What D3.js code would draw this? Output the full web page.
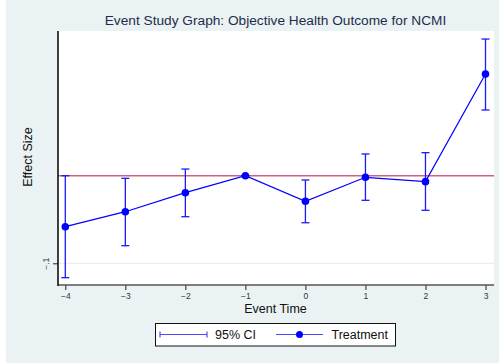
<!DOCTYPE html>
<html>
<head>
<meta charset="utf-8">
<script src="https://cdn.jsdelivr.net/npm/d3@7"></script>
<style>
  html, body { margin: 0; padding: 0; background: #ffffff; }
  svg { display: block; }
  text { font-family: "Liberation Sans", Arial, sans-serif; }
</style>
</head>
<body>
<svg id="chart" width="502" height="363"></svg>
<script>
// Event-study coefficients and 95% confidence bounds
const eventTimes = [-4, -3, -2, -1, 0, 1, 2, 3];
const estimates  = [-0.0582, -0.0411, -0.0194, 0.0, -0.0292, -0.0018, -0.0068, 0.1161];
const ciLower    = [-0.1164, -0.0799, -0.0468, 0.0, -0.0537, -0.0281, -0.0395, 0.0750];
const ciUpper    = [ 0.0000, -0.0030,  0.0076, 0.0, -0.0049,  0.0248,  0.0263, 0.1560];
const yTicks     = [-0.1];
const yTickLabels = ["\u2212.1"];
const legendLabels = ["95% CI", "Treatment"];

const rows = eventTimes.map((t, i) => ({ t, est: estimates[i], lo: ciLower[i], hi: ciUpper[i] }));

const svg = d3.select("#chart");
const W = 502, H = 363;

// outer graph region
svg.append("rect").attr("x", 6).attr("y", 0).attr("width", 493).attr("height", H)
  .attr("fill", "#eaf2f3");

const plot = { left: 58, right: 494, top: 31, bottom: 285 };
svg.append("rect").attr("x", plot.left).attr("y", plot.top)
  .attr("width", plot.right - plot.left).attr("height", plot.bottom - plot.top)
  .attr("fill", "#ffffff");

const x = d3.scaleLinear().domain([-4, 3]).range([65.3, 485.5]);
const y = d3.scaleLinear().domain([-0.1, 0]).range([263.3, 175.7]);

// gridline
svg.append("g").selectAll("line").data(yTicks).join("line")
  .attr("x1", plot.left).attr("x2", plot.right)
  .attr("y1", d => y(d)).attr("y2", d => y(d))
  .attr("stroke", "#e6ecec").attr("stroke-width", 1);

// zero reference line
svg.append("line")
  .attr("x1", plot.left).attr("x2", plot.right)
  .attr("y1", y(0)).attr("y2", y(0))
  .attr("stroke", "#d6607a").attr("stroke-width", 1.6);

// x axis
const xAxis = d3.axisBottom(x).tickValues(eventTimes)
  .tickFormat(d => d < 0 ? "\u2212" + Math.abs(d) : String(d))
  .tickSize(5).tickPadding(3);
const gx = svg.append("g").attr("transform", `translate(0,${plot.bottom})`).call(xAxis);
gx.select(".domain").remove();
gx.append("line").attr("x1", plot.left).attr("x2", plot.right).attr("y1", 0).attr("y2", 0)
  .attr("stroke", "#555").attr("stroke-width", 1.3);
gx.selectAll(".tick line").attr("stroke", "#222").attr("stroke-width", 1);
gx.selectAll(".tick text").attr("font-size", 8.5).attr("fill", "#333")
  .attr("font-family", "Liberation Sans, Arial, sans-serif");

// y axis
const yAxis = d3.axisLeft(y).tickValues(yTicks).tickFormat((d, i) => yTickLabels[i])
  .tickSize(5).tickPadding(2);
const gy = svg.append("g").attr("transform", `translate(${plot.left},0)`).call(yAxis);
gy.select(".domain").remove();
gy.append("line").attr("x1", 0).attr("x2", 0).attr("y1", plot.top).attr("y2", plot.bottom + 1)
  .attr("stroke", "#111").attr("stroke-width", 1.6);
gy.selectAll(".tick line").attr("stroke", "#222");
gy.selectAll(".tick text")
  .attr("font-size", 8.5).attr("fill", "#333").attr("text-anchor", "middle")
  .attr("font-family", "Liberation Sans, Arial, sans-serif")
  .attr("transform", "translate(-12,0) rotate(-90)")
  .attr("x", 0).attr("dy", "0.32em");

// confidence intervals
const ci = svg.append("g").attr("stroke", "#1a1aff").attr("stroke-width", 1.3);
const cap = 4;
rows.forEach(d => {
  ci.append("line").attr("x1", x(d.t)).attr("x2", x(d.t)).attr("y1", y(d.lo)).attr("y2", y(d.hi));
  ci.append("line").attr("x1", x(d.t) - cap).attr("x2", x(d.t) + cap).attr("y1", y(d.lo)).attr("y2", y(d.lo));
  ci.append("line").attr("x1", x(d.t) - cap).attr("x2", x(d.t) + cap).attr("y1", y(d.hi)).attr("y2", y(d.hi));
});

// estimates line and markers
const line = d3.line().x(d => x(d.t)).y(d => y(d.est));
svg.append("path").datum(rows).attr("d", line)
  .attr("fill", "none").attr("stroke", "#0000ff").attr("stroke-width", 1.2);
svg.append("g").selectAll("circle").data(rows).join("circle")
  .attr("cx", d => x(d.t)).attr("cy", d => y(d.est)).attr("r", 3.8)
  .attr("fill", "#0000ff");

// titles
svg.append("text").attr("x", 275.5).attr("y", 25).attr("text-anchor", "middle")
  .attr("font-size", 13.7).attr("fill", "#1f2d4a")
  .text("Event Study Graph: Objective Health Outcome for NCMI");
svg.append("text").attr("transform", "translate(31.5,157) rotate(-90)")
  .attr("text-anchor", "middle").attr("font-size", 12.5).attr("fill", "#111")
  .text("Effect Size");
svg.append("text").attr("x", 275.5).attr("y", 313).attr("text-anchor", "middle")
  .attr("font-size", 12.5).attr("fill", "#111")
  .text("Event Time");

// legend
const lg = svg.append("g");
lg.append("rect").attr("x", 155.5).attr("y", 323.5).attr("width", 240).attr("height", 22.5)
  .attr("fill", "#ffffff").attr("stroke", "#111").attr("stroke-width", 1);
const ly = 334.5;
lg.append("line").attr("x1", 160).attr("x2", 207).attr("y1", ly).attr("y2", ly)
  .attr("stroke", "#4a4aff").attr("stroke-width", 1.2);
lg.append("line").attr("x1", 160).attr("x2", 160).attr("y1", ly - 3).attr("y2", ly + 3)
  .attr("stroke", "#4a4aff").attr("stroke-width", 1.2);
lg.append("line").attr("x1", 207).attr("x2", 207).attr("y1", ly - 3).attr("y2", ly + 3)
  .attr("stroke", "#4a4aff").attr("stroke-width", 1.2);
lg.append("text").attr("x", 215).attr("y", ly + 4.5).attr("font-size", 12.5).attr("fill", "#111")
  .text(legendLabels[0]);
lg.append("line").attr("x1", 276).attr("x2", 323).attr("y1", ly).attr("y2", ly)
  .attr("stroke", "#4a4aff").attr("stroke-width", 1.2);
lg.append("circle").attr("cx", 299.5).attr("cy", ly).attr("r", 3.5).attr("fill", "#0000ff");
lg.append("text").attr("x", 331.5).attr("y", ly + 4.5).attr("font-size", 12.5).attr("fill", "#111")
  .text(legendLabels[1]);
</script>
</body>
</html>
